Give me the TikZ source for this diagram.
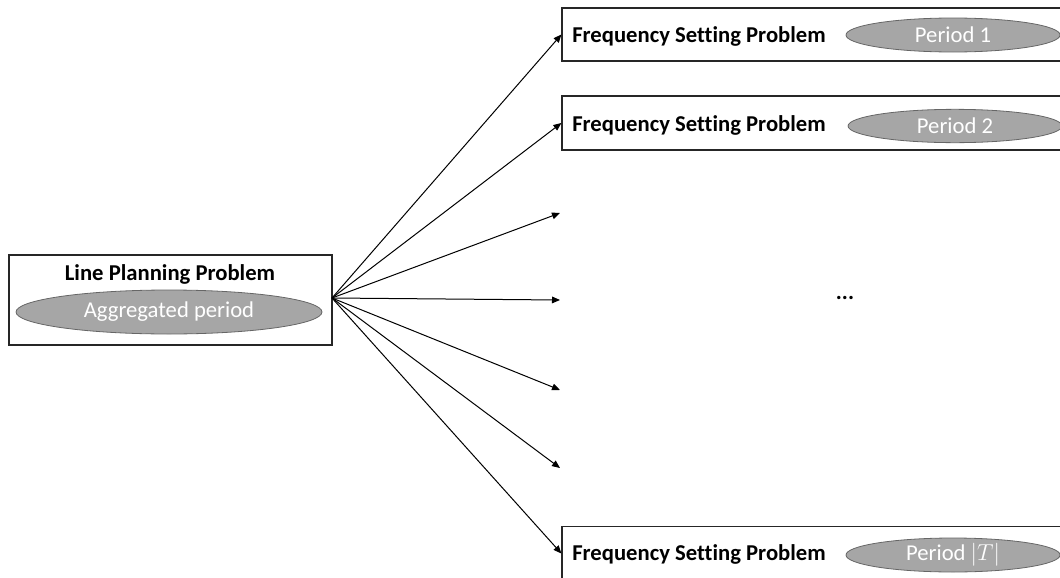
\documentclass[tikz,border=0pt]{standalone}
\usepackage{fontspec}
\setmainfont[Ligatures=NoCommon]{Carlito}
\usetikzlibrary{arrows.meta,shapes.geometric}
\begin{document}
\begin{tikzpicture}[x=0.75pt,y=-0.75pt,
  box/.style={draw=black!85,line width=0.9pt,rectangle,inner sep=0pt},
  per/.style={ellipse,draw=gray!80!black,line width=0.6pt,fill=black!35,text=white,inner sep=0pt,font=\fontsize{17}{20}\selectfont},
  ttl/.style={font=\bfseries\fontsize{17}{20}\selectfont,inner sep=0pt},
  arr/.style={line width=0.75pt,-{Triangle[length=6pt,width=5pt]}}]
\useasboundingbox (0,0) rectangle (1060,578);
% left box
\node[box,minimum width=242.25pt,minimum height=67.5pt] (lp) at (170.5,300) {};
\node[ttl] (lpt) at (170,274) {Line Planning Problem};
\node[per,minimum width=229.5pt,minimum height=33pt] (agg) at (169,312) {Aggregated period};
% right boxes
\node[box,minimum width=381pt,minimum height=39.75pt] (f1) at (816,34.5) {};
\node[box,minimum width=381pt,minimum height=40.5pt] (f2) at (816,123) {};
\node[box,minimum width=381pt,minimum height=40pt] (f3) at (816,553.5) {};
\node[ttl,anchor=west] (t1) at (572,36) {Frequency Setting Problem};
\node[ttl,anchor=west] (t2) at (572,125) {Frequency Setting Problem};
\node[ttl,anchor=west] (t3) at (572,554) {Frequency Setting Problem};
\node[per,minimum width=160.5pt,minimum height=25.5pt] (p1) at (953,35) {Period 1};
\node[per,minimum width=160.5pt,minimum height=25pt] (p2) at (955,126) {Period 2};
\node[per,minimum width=160.5pt,minimum height=25.5pt] (p3) at (953,555) {Period $|T|$};
\node[font=\bfseries\fontsize{17}{20}\selectfont] (dots) at (845,298) {...};
% free ends
\coordinate (c1) at (560,213);
\coordinate (c2) at (560,300);
\coordinate (c3) at (560,390);
\coordinate (c4) at (560,468);
\coordinate (o) at (332,298);
\draw[arr] (o) -- (f1.west);
\draw[arr] (o) -- (f2.west);
\draw[arr] (o) -- (c1);
\draw[arr] (o) -- (c2);
\draw[arr] (o) -- (c3);
\draw[arr] (o) -- (c4);
\draw[arr] (o) -- (f3.west);
\end{tikzpicture}
\end{document}
